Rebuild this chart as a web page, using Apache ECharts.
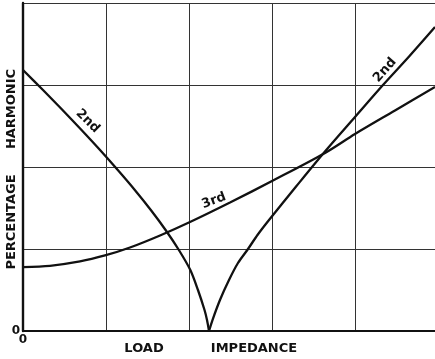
<!DOCTYPE html>
<html><head><meta charset="utf-8">
<script src="https://cdn.jsdelivr.net/npm/echarts@6/dist/echarts.min.js"></script>
<style>html,body{margin:0;padding:0;background:#fff}#c{width:435px;height:359px}</style>
</head><body><div id="c"></div>
<script>
// Harmonic percentage against load impedance
const secondFalling = [[0,3.183],[0.241,2.939],[0.476,2.695],[0.705,2.451],[0.928,2.207],[1.142,1.963],[1.347,1.72],[1.54,1.476],[1.718,1.232],[1.878,0.988],[2.016,0.744],[2.108,0.5],[2.187,0.256],[2.217,0.134],[2.241,0]];
const secondRising = [[2.241,0],[2.283,0.134],[2.373,0.378],[2.482,0.622],[2.59,0.829],[2.711,1.0],[2.825,1.171],[2.964,1.354],[3.295,1.768],[3.633,2.183],[4.0,2.61],[4.337,3.0],[4.657,3.354],[4.964,3.707]];
const third = [[0,0.78],[0.325,0.795],[0.687,0.848],[0.988,0.921],[1.289,1.018],[1.651,1.165],[2.012,1.329],[2.494,1.567],[3.012,1.835],[3.639,2.171],[4.0,2.402],[4.482,2.689],[4.964,2.976]];
const curveLabels = [
  {text:'2nd', at:[0.78,2.56], rot:-0.78},
  {text:'3rd', at:[2.30,1.59], rot:0.36},
  {text:'2nd', at:[4.36,3.18], rot:0.85}
];
const xTickLabels = ['0'];
const yTickLabels = ['0'];

const ink = '#111';
const font = 'DejaVu Sans';
const chart = echarts.init(document.getElementById('c'), null, {renderer:'canvas'});

const lineSeries = (name, data) => ({
  name, type:'line', data, smooth:0.3, symbol:'none',
  lineStyle:{color:ink, width:2.3}, z:5, animation:false
});

chart.setOption({
  backgroundColor:'#fff',
  animation:false,
  grid:{left:23, top:3, width:415, height:328, outerBoundsMode:'none', containLabel:false},
  xAxis:[{
    type:'value', min:0, max:5, interval:1,
    axisLine:{show:true, onZero:false, lineStyle:{color:ink, width:2.2}},
    axisTick:{show:false},
    splitLine:{show:true, lineStyle:{color:'#333', width:1}},
    axisLabel:{margin:3, color:ink, fontFamily:font, fontWeight:'bold', fontSize:12,
      formatter:v => v === 0 ? xTickLabels[0] : ''}
  },{
    type:'value', position:'top', min:0, max:5, interval:1,
    axisLine:{show:true, lineStyle:{color:ink, width:2.2}},
    axisTick:{show:false}, axisLabel:{show:false}, splitLine:{show:false}
  }],
  yAxis:{
    type:'value', min:0, max:4, interval:1,
    axisLine:{show:true, onZero:false, lineStyle:{color:ink, width:2.4}},
    axisTick:{show:false},
    splitLine:{show:true, lineStyle:{color:'#333', width:1}},
    axisLabel:{margin:3, color:ink, fontFamily:font, fontWeight:'bold', fontSize:12,
      verticalAlign:'middle',
      formatter:v => v === 0 ? yTickLabels[0] : ''}
  },
  series:[
    lineSeries('2nd falling', secondFalling),
    lineSeries('2nd rising', secondRising),
    lineSeries('3rd', third)
  ]
});

const textStyle = {fill:ink, fontFamily:font, fontWeight:'bold', fontSize:13};
const graphics = [
  {type:'text', x:12, y:109, rotation:Math.PI/2, style:Object.assign({text:'HARMONIC', align:'center', verticalAlign:'middle'}, textStyle)},
  {type:'text', x:12, y:222, rotation:Math.PI/2, style:Object.assign({text:'PERCENTAGE', align:'center', verticalAlign:'middle'}, textStyle)},
  {type:'text', x:144, y:349, style:Object.assign({text:'LOAD', align:'center', verticalAlign:'middle'}, textStyle)},
  {type:'text', x:254, y:349, style:Object.assign({text:'IMPEDANCE', align:'center', verticalAlign:'middle'}, textStyle)}
];
curveLabels.forEach(l => {
  const p = chart.convertToPixel({gridIndex:0}, l.at);
  graphics.push({type:'text', x:p[0], y:p[1], rotation:l.rot, z:10,
    style:Object.assign({text:l.text, align:'center', verticalAlign:'middle'}, textStyle)});
});
chart.setOption({graphic:graphics});
</script>
</body></html>
